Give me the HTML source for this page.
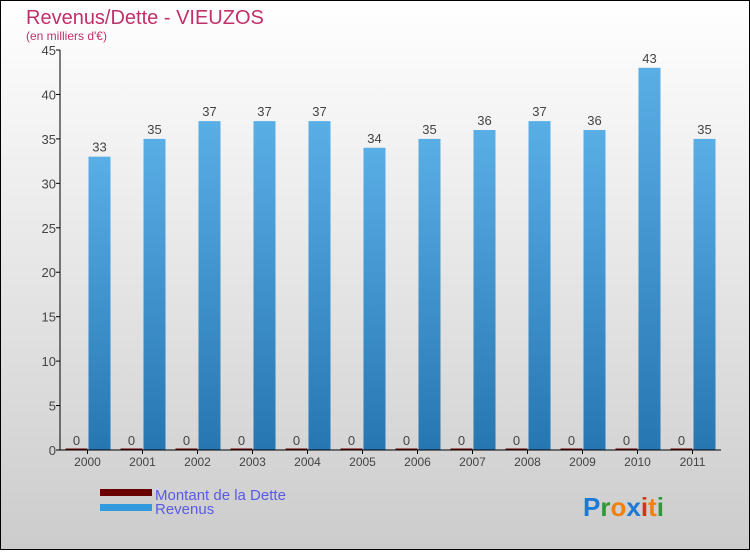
<!DOCTYPE html>
<html><head><meta charset="utf-8"><style>
html,body{margin:0;padding:0}
body{width:750px;height:550px;overflow:hidden;font-family:"Liberation Sans",sans-serif}
svg text{font-family:"Liberation Sans",sans-serif}
</style></head><body>
<svg width="750" height="550" viewBox="0 0 750 550">
<defs>
<linearGradient id="bg" x1="0" y1="0" x2="0" y2="1"><stop offset="0" stop-color="#ffffff"/><stop offset="1" stop-color="#cccccc"/></linearGradient>
<linearGradient id="bar" x1="0" y1="0" x2="0" y2="1"><stop offset="0" stop-color="#5aaee6"/><stop offset="1" stop-color="#2676b2"/></linearGradient>
</defs>
<rect x="0.5" y="0.5" width="749" height="549" fill="url(#bg)" stroke="#000"/>
<text x="26" y="24" font-size="20" fill="#c0306a">Revenus/Dette - VIEUZOS</text>
<text x="26" y="40" font-size="12" fill="#c0306a">(en milliers d'€)</text>
<g id="plot"></g>
<g>
<rect x="100" y="489" width="52" height="7" fill="#6b0000"/>
<text x="155" y="500" font-size="15" fill="#5a5ae6">Montant de la Dette</text>
<rect x="100" y="504" width="52" height="7" fill="#3399dd"/>
<text x="155" y="514" font-size="15" fill="#5a5ae6">Revenus</text>
</g>
<g font-size="26" font-weight="bold">
<text x="583" y="516"><tspan fill="#1a7ad4">P</tspan><tspan fill="#2a9a3a">r</tspan><tspan fill="#f08010">o</tspan><tspan fill="#1a7ad4">x</tspan><tspan fill="#e03010">i</tspan><tspan fill="#f08010">t</tspan><tspan fill="#2a9a3a">i</tspan></text>
</g>
</svg>
<script>
const years=["2000","2001","2002","2003","2004","2005","2006","2007","2008","2009","2010","2011"];
const revenus=[33,35,37,37,37,34,35,36,37,36,43,35];
const dette=[0,0,0,0,0,0,0,0,0,0,0,0];
const yTicks=[0,5,10,15,20,25,30,35,40,45];
const NS="http://www.w3.org/2000/svg";
const g=document.getElementById('plot');
const x0=60,y0=450,ppu=400/45,slot=55;
const yS=v=>y0-v*ppu;
const xC=i=>87.5+i*slot;
function mk(t,a,txt){const e=document.createElementNS(NS,t);for(const k in a)e.setAttribute(k,a[k]);if(txt!==undefined)e.textContent=txt;g.appendChild(e);return e;}
yTicks.forEach(v=>{
  const l=mk('line',{x1:x0-4,x2:x0,y1:yS(v),y2:yS(v),stroke:'#000'});
  
  
  const t=mk('text',{x:x0-4,y:yS(v)+5,'font-size':13,fill:'#444','text-anchor':'end'},String(v));
  
  
});
years.forEach((y,i)=>{
  const c=xC(i);
  const d=mk('rect',{x:c-22,y:yS(dette[i])-1.5,width:22,height:dette[i]*ppu+1.5,fill:'#6b0000'});
  
  
  const dl=mk('text',{x:c-11,y:yS(dette[i])-5,'font-size':13,fill:'#444','text-anchor':'middle'},String(dette[i]));
  
  
  const r=mk('rect',{x:c+1,y:yS(revenus[i]),width:22,height:revenus[i]*ppu,fill:'url(#bar)'});
  
  
  const rl=mk('text',{x:c+12,y:yS(revenus[i])-5,'font-size':13,fill:'#444','text-anchor':'middle'},String(revenus[i]));
  
  
  const tk=mk('line',{x1:c,x2:c,y1:y0,y2:y0+4,stroke:'#000'});
  
  
  const xl=mk('text',{x:c,y:y0+16,'font-size':12,fill:'#444','text-anchor':'middle'},y);
  
  
});
const ya=mk('line',{x1:x0,x2:x0,y1:50,y2:y0,stroke:'#000'});


const xa=mk('line',{x1:x0,x2:721,y1:y0,y2:y0,stroke:'#000'});


</script>
</body></html>
